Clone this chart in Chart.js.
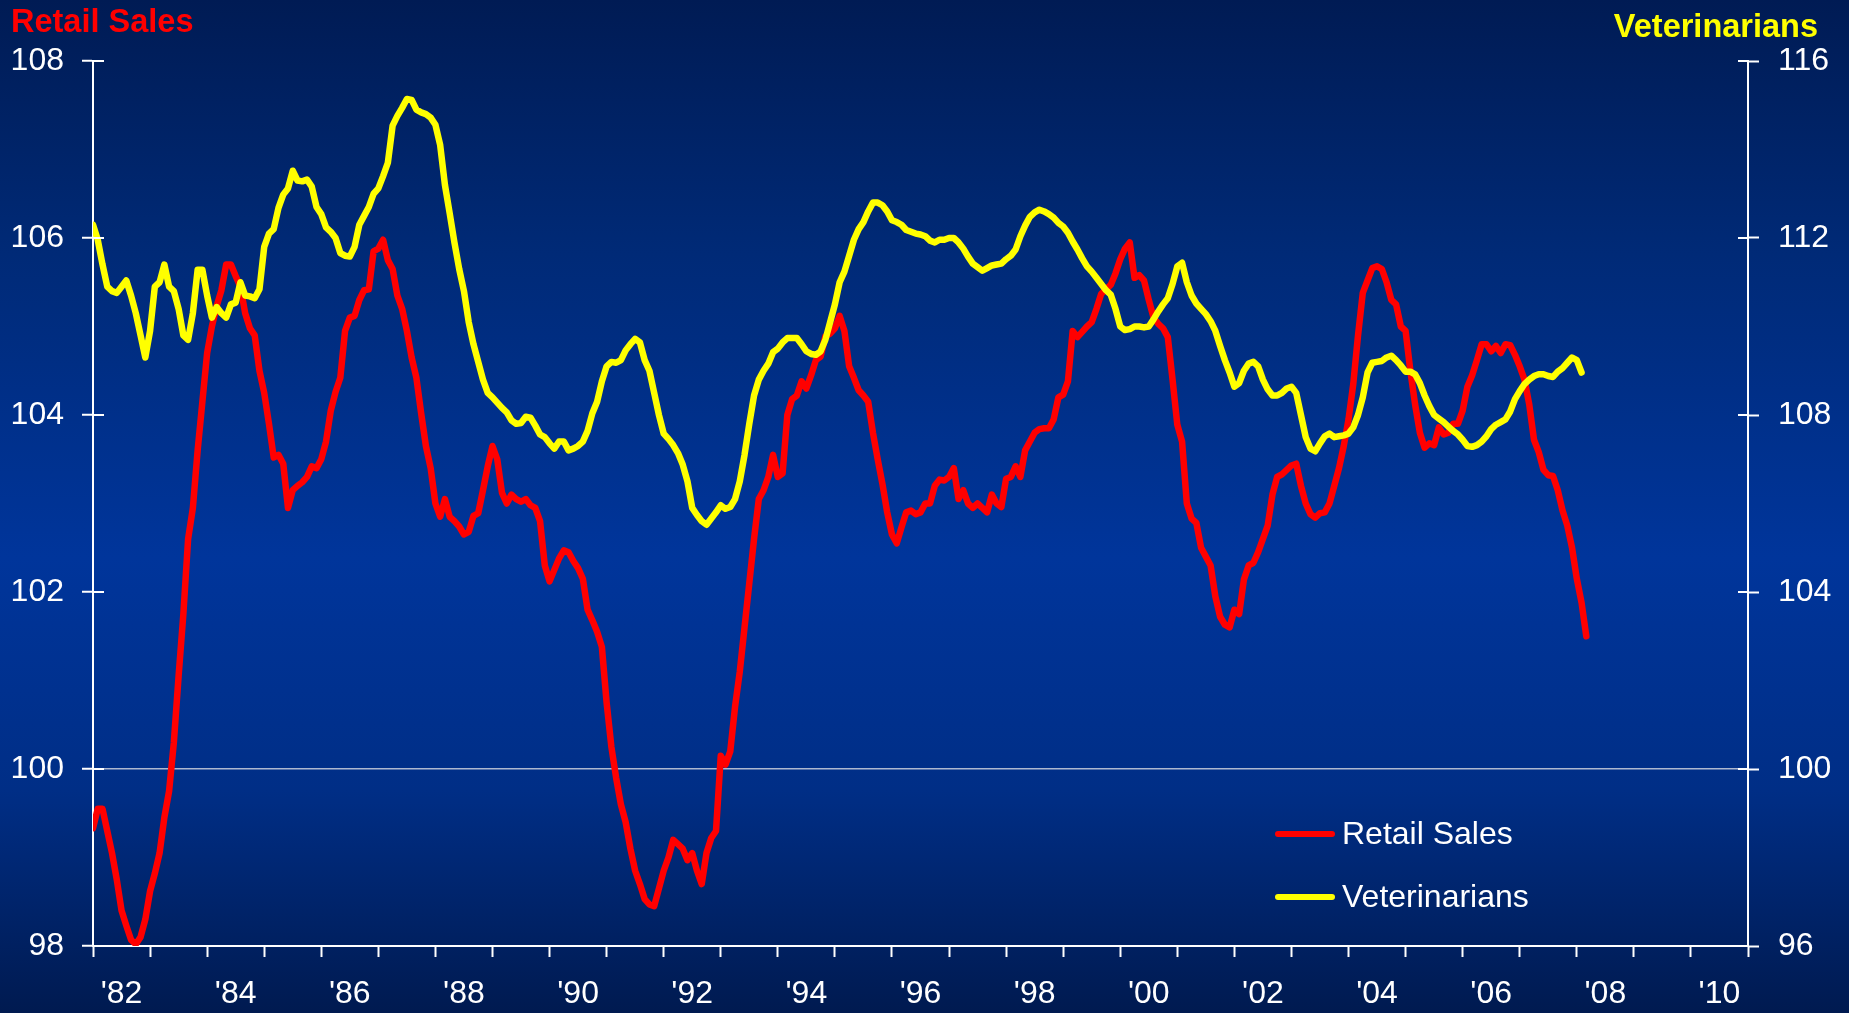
<!DOCTYPE html>
<html>
<head>
<meta charset="utf-8">
<title>Retail Sales vs Veterinarians</title>
<script src="https://cdn.jsdelivr.net/npm/chart.js@4.4.1/dist/chart.umd.min.js"></script>
<style>
  html, body { margin: 0; padding: 0; }
  body {
    width: 1849px; height: 1013px; overflow: hidden;
    background: linear-gradient(to bottom, #001b54 0%, #002a77 25%, #00359b 55%, #002e86 78%, #001a50 100%);
    font-family: "Liberation Sans", Arial, sans-serif;
  }
  .wrap { position: relative; width: 1849px; height: 1013px; }
  .axisTitle { position: absolute; font-weight: bold; font-size: 32.5px; line-height: 32px; white-space: nowrap; }
  #leftTitle { left: 11px; top: 5px; color: #ff0000; }
  #rightTitle { right: 31px; top: 10px; color: #ffff00; }
</style>
</head>
<body>
<div class="wrap">
  <canvas id="chart"></canvas>
  <div class="axisTitle" id="leftTitle">Retail Sales</div>
  <div class="axisTitle" id="rightTitle">Veterinarians</div>
</div>
<script>
// monthly values, first point = Jan 1982
const startYear = 1982;

const retailSales = [
  99.33, 99.55, 99.55, 99.3, 99.05, 98.75, 98.4, 98.23, 98.07, 98.02, 98.1, 98.3,
  98.62, 98.82, 99.05, 99.45, 99.75, 100.3, 101.05, 101.75, 102.6, 102.95, 103.6, 104.15,
  104.7, 105.0, 105.23, 105.41, 105.7, 105.7, 105.57, 105.45, 105.15, 104.98, 104.9, 104.5,
  104.25, 103.9, 103.52, 103.55, 103.45, 102.95, 103.15, 103.2, 103.24, 103.3, 103.42, 103.4,
  103.5, 103.7, 104.05, 104.26, 104.42, 104.95, 105.1, 105.12, 105.3, 105.41, 105.42, 105.85,
  105.88, 105.98, 105.75, 105.65, 105.35, 105.2, 104.95, 104.65, 104.42, 104.02, 103.65, 103.4,
  103.0, 102.85, 103.05, 102.85, 102.8, 102.74, 102.65, 102.68, 102.86, 102.89, 103.15, 103.42,
  103.65, 103.5, 103.12, 103.0, 103.1, 103.05, 103.02, 103.05, 102.98, 102.95, 102.8, 102.3,
  102.12, 102.25, 102.38, 102.47, 102.45, 102.35, 102.27, 102.15, 101.8, 101.68, 101.55, 101.38,
  100.75, 100.25, 99.9, 99.6, 99.4, 99.1, 98.85, 98.7, 98.53, 98.47, 98.45, 98.65,
  98.85, 99.0, 99.2, 99.15, 99.1, 98.97, 99.05, 98.85, 98.7, 99.05, 99.22, 99.3,
  100.15, 100.05, 100.2, 100.7, 101.1, 101.6, 102.1, 102.6, 103.05, 103.15, 103.3, 103.55,
  103.3, 103.34, 104.0, 104.18, 104.22, 104.38, 104.3, 104.45, 104.62, 104.66, 104.89, 104.92,
  104.98, 105.12, 104.95, 104.55, 104.42, 104.28, 104.22, 104.15, 103.8, 103.5, 103.22, 102.9,
  102.65, 102.55, 102.73, 102.9, 102.92, 102.88, 102.9, 103.0, 103.0, 103.2, 103.27, 103.26,
  103.3, 103.4, 103.05, 103.15, 103.0, 102.95, 103.0, 102.95, 102.9, 103.1, 103.0, 102.96,
  103.28, 103.3, 103.42, 103.3, 103.6, 103.7, 103.8, 103.84, 103.85, 103.85, 103.95, 104.2,
  104.23, 104.38, 104.95, 104.88, 104.94, 105.0, 105.05, 105.2, 105.37, 105.42, 105.47, 105.6,
  105.76, 105.88, 105.95, 105.55, 105.58, 105.52, 105.3, 105.1, 105.03, 104.98, 104.88, 104.4,
  103.89, 103.7, 103.0, 102.83, 102.78, 102.5, 102.4, 102.3, 101.95, 101.72, 101.63, 101.6,
  101.8, 101.75, 102.14, 102.3, 102.33, 102.45, 102.6, 102.75, 103.1, 103.3, 103.33, 103.38,
  103.43, 103.45, 103.2, 103.0, 102.88, 102.84, 102.89, 102.9, 103.0, 103.2, 103.4, 103.65,
  103.95, 104.35, 104.9, 105.38, 105.52, 105.66, 105.68, 105.65, 105.5, 105.3, 105.25, 105.0,
  104.95, 104.5, 104.12, 103.8, 103.63, 103.68, 103.66, 103.86, 103.78, 103.8, 103.9, 103.9,
  104.05, 104.32, 104.45, 104.62, 104.8, 104.8, 104.72, 104.78, 104.7, 104.8, 104.79, 104.68,
  104.55, 104.4, 104.12, 103.72, 103.58, 103.38, 103.32, 103.31, 103.15, 102.92, 102.75, 102.5,
  102.15, 101.88, 101.5
];

const veterinarians = [
  112.3, 111.96, 111.4, 110.9, 110.8, 110.76, 110.9, 111.04, 110.7, 110.3, 109.8, 109.3,
  109.9, 110.9, 111.0, 111.4, 110.9, 110.8, 110.4, 109.8, 109.7, 110.3, 111.28, 111.28,
  110.7, 110.2, 110.44, 110.3, 110.2, 110.5, 110.54, 111.0, 110.7, 110.68, 110.64, 110.84,
  111.8, 112.1, 112.2, 112.68, 112.98, 113.12, 113.52, 113.3, 113.28, 113.32, 113.16, 112.7,
  112.54, 112.24, 112.14, 112.0, 111.66, 111.6, 111.58, 111.8, 112.3, 112.5, 112.7, 113.0,
  113.12, 113.4, 113.7, 114.54, 114.76, 114.94, 115.14, 115.12, 114.9, 114.84, 114.8, 114.72,
  114.56, 114.1, 113.2, 112.56, 111.9, 111.3, 110.8, 110.1, 109.6, 109.2, 108.8, 108.5,
  108.4, 108.28, 108.16, 108.06, 107.88, 107.8, 107.82, 107.96, 107.94, 107.76, 107.56, 107.5,
  107.36, 107.24, 107.4, 107.4, 107.2, 107.24, 107.3, 107.4, 107.64, 108.04, 108.3, 108.76,
  109.1, 109.2, 109.18, 109.24, 109.46, 109.6, 109.72, 109.64, 109.24, 109.0, 108.5, 108.0,
  107.58, 107.46, 107.32, 107.14, 106.88, 106.5, 105.9, 105.74, 105.6, 105.52, 105.66, 105.8,
  105.96, 105.88, 105.92, 106.1, 106.5, 107.1, 107.8, 108.44, 108.8, 109.0, 109.16, 109.42,
  109.5, 109.64, 109.74, 109.74, 109.74, 109.6, 109.44, 109.38, 109.36, 109.44, 109.7, 110.1,
  110.5, 111.0, 111.24, 111.6, 111.96, 112.2, 112.36, 112.6, 112.8, 112.8, 112.74, 112.6,
  112.4, 112.36, 112.3, 112.18, 112.14, 112.1, 112.08, 112.04, 111.94, 111.9, 111.96, 111.96,
  112.0, 112.0, 111.9, 111.76, 111.58, 111.42, 111.34, 111.26, 111.32, 111.38, 111.4, 111.42,
  111.52, 111.6, 111.74, 112.04, 112.28, 112.48, 112.58, 112.64, 112.6, 112.54, 112.46, 112.34,
  112.26, 112.12, 111.92, 111.74, 111.54, 111.36, 111.24, 111.1, 110.96, 110.82, 110.72, 110.4,
  110.0, 109.92, 109.94, 110.0, 110.0, 109.98, 110.0, 110.16, 110.34, 110.5, 110.64, 110.96,
  111.36, 111.44, 111.0, 110.7, 110.52, 110.4, 110.28, 110.12, 109.9, 109.56, 109.24, 108.96,
  108.64, 108.72, 109.0, 109.16, 109.2, 109.1, 108.8, 108.58, 108.44, 108.44, 108.5, 108.6,
  108.64, 108.5, 108.0, 107.5, 107.24, 107.18, 107.36, 107.52, 107.58, 107.5, 107.52, 107.54,
  107.58, 107.72, 108.0, 108.4, 108.96, 109.18, 109.2, 109.22, 109.3, 109.34, 109.24, 109.12,
  108.98, 108.98, 108.92, 108.72, 108.44, 108.2, 108.0, 107.92, 107.84, 107.74, 107.64, 107.56,
  107.44, 107.3, 107.28, 107.32, 107.4, 107.52, 107.68, 107.78, 107.84, 107.9, 108.08, 108.36,
  108.54, 108.7, 108.8, 108.88, 108.92, 108.92, 108.88, 108.86, 108.98, 109.06, 109.18, 109.3,
  109.24, 108.96
];

const yearTicks = [1982, 1983, 1984, 1985, 1986, 1987, 1988, 1989, 1990, 1991, 1992, 1993, 1994, 1995, 1996,
  1997, 1998, 1999, 2000, 2001, 2002, 2003, 2004, 2005, 2006, 2007, 2008, 2009, 2010, 2011];
const labelYears = [1982, 1984, 1986, 1988, 1990, 1992, 1994, 1996, 1998, 2000, 2002, 2004, 2006, 2008, 2010];
const xLabels = ["'82", "'84", "'86", "'88", "'90", "'92", "'94", "'96", "'98", "'00", "'02", "'04", "'06", "'08", "'10"];
const leftTicks = [98, 100, 102, 104, 106, 108];
const rightTicks = [96, 100, 104, 108, 112, 116];

const FONT = '"Liberation Sans", Arial, sans-serif';
const clear = 'rgba(0,0,0,0)';

const toPoints = (arr) => arr.map((v, i) => ({ x: startYear + i / 12, y: v }));

// tick marks that cross the y axes (chart.js only draws the outer half)
const innerTicks = {
  id: 'innerTicks',
  afterDatasetsDraw(chart) {
    const { ctx, chartArea, scales } = chart;
    ctx.save();
    ctx.strokeStyle = '#fff';
    ctx.lineWidth = 2;
    scales.y.ticks.forEach((t) => {
      const py = scales.y.getPixelForValue(t.value);
      ctx.beginPath();
      ctx.moveTo(chartArea.left, py);
      ctx.lineTo(chartArea.left + 11, py);
      ctx.stroke();
    });
    scales.y1.ticks.forEach((t) => {
      const py = scales.y1.getPixelForValue(t.value);
      ctx.beginPath();
      ctx.moveTo(chartArea.right - 10, py);
      ctx.lineTo(chartArea.right, py);
      ctx.stroke();
    });
    ctx.restore();
  }
};

const lineLegend = {
  id: 'lineLegend',
  afterDraw(chart, args, opts) {
    const ctx = chart.ctx;
    chart.data.datasets.forEach((ds, i) => {
      const y = opts.y + i * opts.rowGap;
      ctx.save();
      ctx.strokeStyle = ds.borderColor;
      ctx.lineWidth = 6;
      ctx.lineCap = 'round';
      ctx.beginPath();
      ctx.moveTo(opts.x, y);
      ctx.lineTo(opts.x + opts.lineLength, y);
      ctx.stroke();
      ctx.fillStyle = '#fff';
      ctx.font = '32px ' + FONT;
      ctx.textBaseline = 'middle';
      ctx.fillText(ds.label, opts.x + opts.lineLength + opts.gap, y + 1);
      ctx.restore();
    });
  }
};

new Chart(document.getElementById('chart'), {
  type: 'line',
  data: {
    datasets: [
      {
        label: 'Retail Sales',
        data: toPoints(retailSales),
        yAxisID: 'y',
        borderColor: '#ff0000',
        borderWidth: 6.5,
        order: 1
      },
      {
        label: 'Veterinarians',
        data: toPoints(veterinarians),
        yAxisID: 'y1',
        borderColor: '#ffff00',
        borderWidth: 6.5,
        order: 0
      }
    ]
  },
  options: {
    responsive: true,
    maintainAspectRatio: false,
    animation: false,
    devicePixelRatio: 1,
    layout: { padding: { top: 61, left: 0, right: 0, bottom: 0 } },
    elements: {
      point: { radius: 0 },
      line: { tension: 0, borderJoinStyle: 'round', borderCapStyle: 'round' }
    },
    plugins: {
      legend: { display: false },
      tooltip: { enabled: false },
      lineLegend: { x: 1278, y: 834, rowGap: 63, lineLength: 54, gap: 10 }
    },
    scales: {
      x: {
        type: 'linear',
        min: 1982,
        max: 2011,
        afterBuildTicks: (s) => {
          s.ticks = yearTicks.map((v) => ({ value: v }))
            .concat(labelYears.map((v) => ({ value: v + 0.5 })))
            .sort((a, b) => a.value - b.value);
        },
        afterFit: (s) => { s.height = 67; },
        ticks: {
          autoSkip: false,
          maxRotation: 0,
          padding: 18,
          color: '#fff',
          font: { family: FONT, size: 32 },
          callback: (value) => {
            const k = labelYears.indexOf(value - 0.5);
            return k >= 0 ? xLabels[k] : '';
          }
        },
        grid: {
          drawOnChartArea: false,
          tickLength: 11,
          tickWidth: 2,
          tickColor: (c) => (c.tick && Number.isInteger(c.tick.value) ? '#fff' : clear)
        },
        border: { color: '#fff', width: 2 }
      },
      y: {
        position: 'left',
        min: 98,
        max: 108,
        afterBuildTicks: (s) => { s.ticks = leftTicks.map((v) => ({ value: v })); },
        afterFit: (s) => { s.width = 93; },
        ticks: { padding: 18, color: '#fff', font: { family: FONT, size: 32 } },
        grid: {
          color: (c) => (c.tick && c.tick.value === 100 ? 'rgba(205,208,220,0.85)' : clear),
          lineWidth: 1.5,
          tickLength: 11,
          tickWidth: 2,
          tickColor: '#fff'
        },
        border: { color: '#fff', width: 2 }
      },
      y1: {
        position: 'right',
        min: 96,
        max: 116,
        afterBuildTicks: (s) => { s.ticks = rightTicks.map((v) => ({ value: v })); },
        afterFit: (s) => { s.width = 101; },
        ticks: { padding: 19, color: '#fff', font: { family: FONT, size: 32 } },
        grid: { drawOnChartArea: false, tickLength: 11, tickWidth: 2, tickColor: '#fff' },
        border: { color: '#fff', width: 2 }
      }
    }
  },
  plugins: [innerTicks, lineLegend]
});
</script>
</body>
</html>
